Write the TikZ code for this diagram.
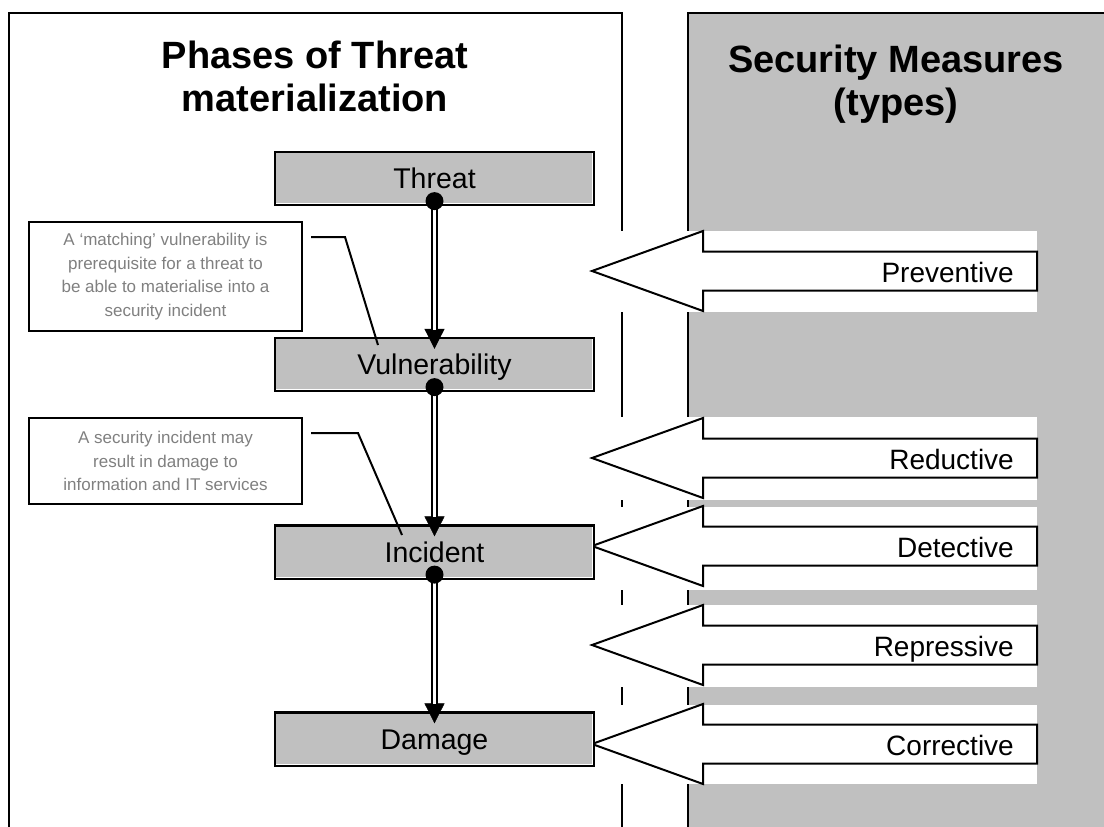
\documentclass[tikz,border=0pt]{standalone}
\usepackage{fontspec}
\setmainfont{Liberation Sans}
\usetikzlibrary{arrows.meta}
\definecolor{panelgray}{RGB}{192,192,192}
\definecolor{notegray}{RGB}{128,128,128}
\begin{document}
\begin{tikzpicture}[x=1pt,y=-1pt,
  phase/.style={draw=black, line width=2.2pt, fill=panelgray,
    minimum width=319pt, minimum height=53pt, inner sep=0pt,
    text height=20.4pt, text depth=0pt,
    font=\fontsize{28.5}{32}\selectfont},
  note/.style={draw=black, line width=2.4pt, fill=white, text=notegray,
    align=center, inner sep=0pt, minimum width=273pt,
    font=\fontsize{17}{23.5}\selectfont},
  heading/.style={align=center, inner sep=0pt,
    font=\bfseries\fontsize{38}{43}\selectfont},
  frame/.style={draw=black, line width=2pt},
  leader/.style={draw=black, line width=2pt},
  bigarrow/.style={draw=black, fill=white, line width=2pt, line join=miter},
  band/.style={fill=white},
  measure/.style={anchor=base east, inner sep=0pt,
    font=\fontsize{28}{32}\selectfont},
  tipline/.style={draw=black, line width=0.5pt,
    -{Triangle[width=20pt,length=20pt]}},
  dbl/.style={draw=black, double=white, double distance=2.4pt,
    line width=2.2pt, shorten >=19pt},
  highlight/.style={draw=white, line width=1pt}
]
\useasboundingbox (0,0) rectangle (1104,827);

% left panel: phases
\draw[frame] (8.5,827) -- (8.5,12.5) -- (622,12.5) -- (622,827);
\node[heading] (lefttitle) at (315,76) {Phases of Threat\\materialization};

% right panel: measure types
\fill[panelgray] (688,12.5) rectangle (1104,827);
\draw[frame] (688,827) -- (688,12.5) -- (1104,12.5);
\node[heading] (righttitle) at (896,84) {Security Measures\\(types)};

% white bands with the measure arrows
\foreach \c/\bt/\bb/\lbl/\nm in {271/231/312/Preventive/prev,
                                 458/417/500/Reductive/red,
                                 546/507/590/Detective/det,
                                 645/605/687/Repressive/rep,
                                 744/705/784/Corrective/cor} {
  \fill[band] (604,\bt) rectangle (1037,\bb);
  \draw[bigarrow] (592,\c) -- (703,\c-40) -- (703,\c-19.5) -- (1037,\c-19.5)
     -- (1037,\c+19.5) -- (703,\c+19.5) -- (703,\c+40) -- cycle;
  \node[measure] (m-\nm) at (1014,\c+11) {\lbl};
}

% phase boxes
\node[phase] (threat)   at (434.5,178.5) {Threat};
\node[phase] (vuln)     at (434.5,364.5) {Vulnerability};
\node[phase] (incident) at (434.5,552)   {Incident};
\node[phase] (damage)   at (434.5,739)   {Damage};
\foreach \b in {threat,vuln,incident,damage} {
  \draw[highlight] ([xshift=2.5pt,yshift=2.2pt]\b.south west)
    -- ([xshift=-2.2pt,yshift=2.2pt]\b.south east)
    -- ([xshift=-2.2pt,yshift=-2.5pt]\b.north east);
}

% explanatory notes
\node[note, minimum height=109pt] (note1) at (165.5,276.5)
  {A `matching' vulnerability is\\prerequisite for a threat to\\be able to materialise into a\\security incident};
\node[note, minimum height=86pt] (note2) at (165.5,461)
  {A security incident may\\result in damage to\\information and IT services};

\coordinate (k1) at (345,237);
\coordinate (e1) at (378,345);
\coordinate (k2) at (358,433);
\coordinate (e2) at (402,535);
\draw[leader] ([xshift=8pt]note1.east |- k1) -- (k1) -- (e1);
\draw[leader] ([xshift=8pt]note2.east |- k2) -- (k2) -- (e2);

% phase connectors
\foreach \a/\b in {threat/vuln, vuln/incident, incident/damage} {
  \draw[tipline] ([yshift=5pt]\a.south) -- ([yshift=-12pt]\b.north);
  \draw[dbl] ([yshift=5pt]\a.south) -- ([yshift=-12pt]\b.north);
  \fill[black] ([yshift=5pt]\a.south) circle (9pt);
}
\end{tikzpicture}
\end{document}
